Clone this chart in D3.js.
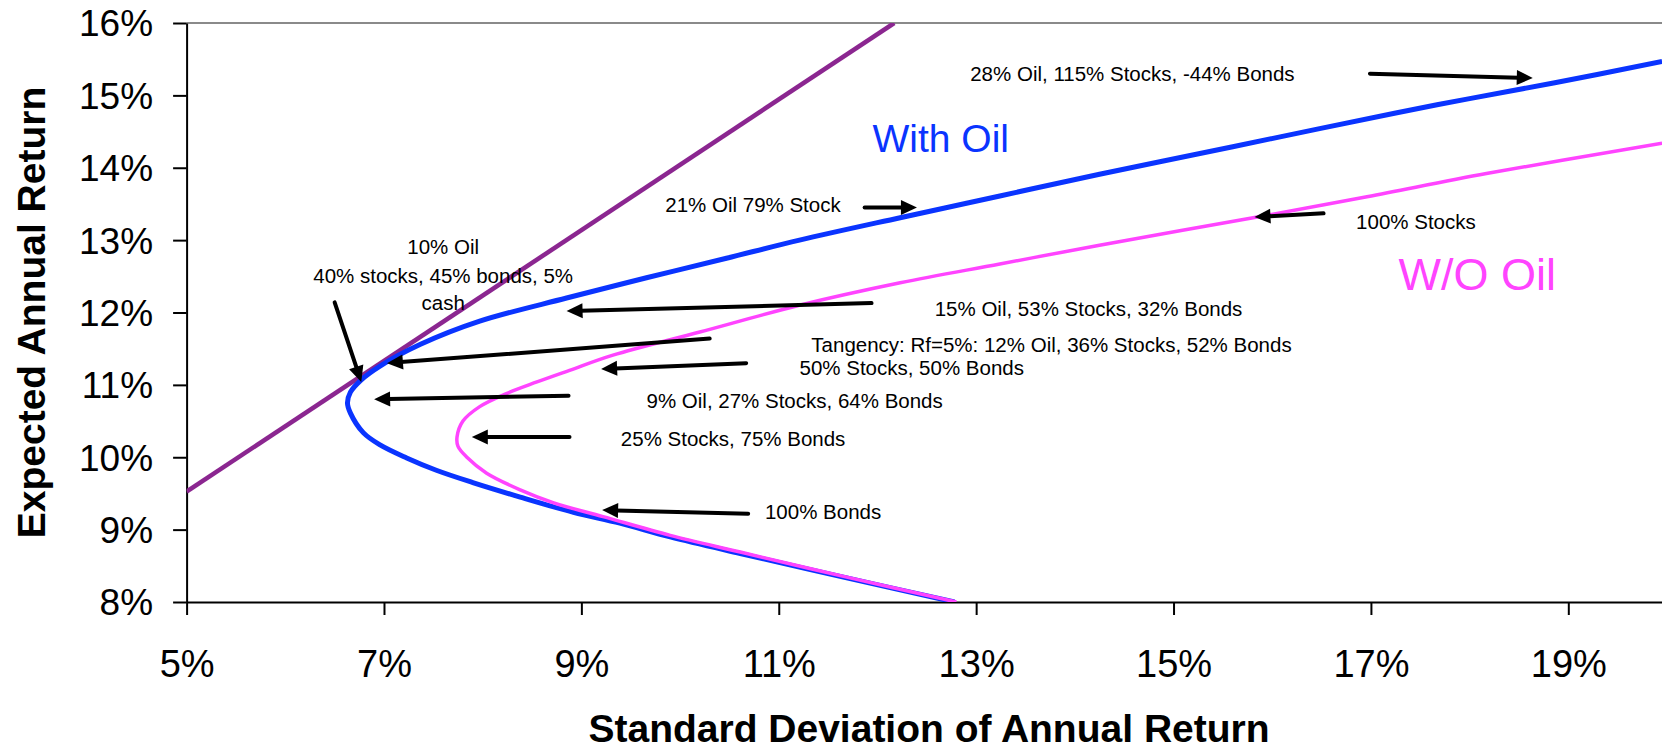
<!DOCTYPE html>
<html>
<head>
<meta charset="utf-8">
<script src="https://cdn.jsdelivr.net/npm/d3@7"></script>
<style>
  body { margin: 0; background: #fff; }
  svg { display: block; font-family: Arial, "Liberation Sans", Helvetica, sans-serif; }
</style>
</head>
<body>
<div id="chart"></div>
<script>
// ticks (in %)
const xTicks = [5, 7, 9, 11, 13, 15, 17, 19];
const yTicks = [8, 9, 10, 11, 12, 13, 14, 15, 16];

// efficient frontier with oil (sd %, return %)
const withOilSd = [12.78, 11.7, 10.61, 9.9, 9.39, 8.92, 8.38, 7.9, 7.53, 7.23, 6.96, 6.79, 6.66, 6.63, 6.66, 6.77, 6.96, 7.37, 7.97, 8.85, 9.66, 10.47, 11.21, 12.23, 13.24, 14.25, 15.6, 16.48, 17.67, 18.85, 19.95];
const withOilRet = [8.0, 8.33, 8.67, 8.9, 9.09, 9.24, 9.45, 9.65, 9.82, 9.99, 10.17, 10.34, 10.61, 10.75, 10.9, 11.07, 11.26, 11.56, 11.88, 12.2, 12.48, 12.75, 13.0, 13.31, 13.61, 13.91, 14.29, 14.54, 14.87, 15.17, 15.47];

// frontier without oil
const noOilSd = [12.8, 11.7, 10.61, 9.9, 9.22, 8.72, 8.38, 8.04, 7.84, 7.75, 7.74, 7.8, 7.97, 8.24, 8.55, 8.88, 9.32, 10.2, 11.21, 12.23, 13.24, 14.25, 15.85, 16.96, 18.17, 19.95];
const noOilRet = [8.0, 8.34, 8.69, 8.92, 9.18, 9.37, 9.55, 9.78, 10.0, 10.15, 10.28, 10.5, 10.7, 10.88, 11.04, 11.2, 11.41, 11.73, 12.1, 12.41, 12.67, 12.93, 13.32, 13.6, 13.92, 14.34];

// capital market line (Rf = 5%)
const cmlSd = [5, 12.17];
const cmlRet = [9.525, 16];

// annotation arrows: tail -> tip
const arrowFrom = [[16.99, 15.3], [11.87, 13.45], [16.52, 13.37], [6.5, 12.14], [11.94, 12.13], [10.3, 11.64], [10.67, 11.3], [8.87, 10.85], [8.88, 10.28], [10.69, 9.22]];
const arrowTo = [[18.64, 15.24], [12.4, 13.45], [15.82, 13.32], [6.77, 11.04], [8.85, 12.02], [7.03, 11.3], [9.2, 11.22], [6.9, 10.8], [7.89, 10.28], [9.21, 9.27]];

// annotation texts and their anchors (sd %, return %)
const noteText = ["28% Oil, 115% Stocks, -44% Bonds", "21% Oil 79% Stock", "100% Stocks", "15% Oil, 53% Stocks, 32% Bonds", "Tangency: Rf=5%: 12% Oil, 36% Stocks, 52% Bonds", "50% Stocks, 50% Bonds", "9% Oil, 27% Stocks, 64% Bonds", "25% Stocks, 75% Bonds", "100% Bonds"];
const noteAt = [[12.94, 15.2], [9.85, 13.39], [16.85, 13.15], [12.58, 11.95], [11.33, 11.46], [11.21, 11.13], [9.66, 10.68], [9.4, 10.16], [10.86, 9.15]];
const tangencyText = ["10% Oil", "40% stocks, 45% bonds, 5%", "cash"];
const tangencyAt = [[7.6, 12.81], [7.6, 12.41], [7.6, 12.03]];

const makePlot = () => {
  const size = { width: 1662, height: 749 };
  const margin = { top: 23, bottom: 147, left: 186.6, right: -5 };

  const svg = d3
    .select("#chart")
    .append("svg")
    .attr("width", size.width)
    .attr("height", size.height);

  svg.append("rect").attr("width", size.width).attr("height", size.height).attr("fill", "#fff");

  const x = d3
    .scaleLinear()
    .domain([5, 20])
    .range([margin.left, size.width - margin.right]);

  const y = d3
    .scaleLinear()
    .domain([8, 16])
    .range([size.height - margin.bottom, margin.top]);

  svg
    .append("clipPath")
    .attr("id", "plotClip")
    .append("rect")
    .attr("x", margin.left)
    .attr("y", margin.top)
    .attr("width", size.width - margin.left)
    .attr("height", y(8) - margin.top);

  // top border
  svg
    .append("line")
    .attr("x1", margin.left)
    .attr("x2", size.width)
    .attr("y1", y(16))
    .attr("y2", y(16))
    .attr("stroke", "#8a8a8a")
    .attr("stroke-width", 2);

  // axes
  const xAxis = svg
    .append("g")
    .attr("transform", `translate(0, ${y(8)})`)
    .call(d3.axisBottom(x).tickValues(xTicks).tickSize(13).tickSizeOuter(0).tickFormat((d) => d + "%"));
  xAxis.select(".domain").attr("stroke-width", 2);
  xAxis.selectAll(".tick line").attr("stroke-width", 2);
  xAxis
    .selectAll(".tick text")
    .attr("y", 75)
    .attr("dy", null)
    .style("font-size", "38px")
    .attr("fill", "#000");

  const yAxis = svg
    .append("g")
    .attr("transform", `translate(${margin.left}, 0)`)
    .call(d3.axisLeft(y).tickValues(yTicks).tickSize(13.5).tickPadding(20).tickSizeOuter(0).tickFormat((d) => d + "%"));
  yAxis.select(".domain").attr("stroke-width", 2);
  yAxis.selectAll(".tick line").attr("stroke-width", 2);
  yAxis
    .selectAll(".tick text")
    .attr("dy", "0.35em")
    .style("font-size", "37px")
    .attr("fill", "#000");

  // axis titles
  svg
    .append("text")
    .text("Standard Deviation of Annual Return")
    .attr("x", 929)
    .attr("y", 742)
    .attr("text-anchor", "middle")
    .attr("font-weight", "bold")
    .style("font-size", "39px");

  svg
    .append("text")
    .text("Expected Annual Return")
    .attr("transform", `translate(45, ${(y(8) + y(16)) / 2}) rotate(-90)`)
    .attr("text-anchor", "middle")
    .attr("font-weight", "bold")
    .style("font-size", "39px");

  // lines
  const plot = svg.append("g").attr("clip-path", "url(#plotClip)");

  const line = d3
    .line()
    .x((d) => x(d[0]))
    .y((d) => y(d[1]))
    .curve(d3.curveCatmullRom.alpha(0.5));

  plot
    .append("path")
    .datum(cmlSd.map((s, i) => [s, cmlRet[i]]))
    .attr("d", d3.line().x((d) => x(d[0])).y((d) => y(d[1])))
    .attr("stroke", "#8b2690")
    .attr("stroke-width", 4.5)
    .attr("fill", "none");

  plot
    .append("path")
    .datum(withOilSd.map((s, i) => [s, withOilRet[i]]))
    .attr("d", line)
    .attr("stroke", "#0a34ff")
    .attr("stroke-width", 5)
    .attr("stroke-linejoin", "round")
    .attr("fill", "none");

  plot
    .append("path")
    .datum(noOilSd.map((s, i) => [s, noOilRet[i]]))
    .attr("d", line)
    .attr("stroke", "#ff44ff")
    .attr("stroke-width", 3.5)
    .attr("stroke-linejoin", "round")
    .attr("fill", "none");

  // series labels
  svg
    .append("text")
    .text("With Oil")
    .attr("x", x(11.95))
    .attr("y", y(14.22))
    .attr("fill", "#0a34ff")
    .style("font-size", "39px");

  svg
    .append("text")
    .text("W/O Oil")
    .attr("x", x(17.28))
    .attr("y", y(12.31))
    .attr("fill", "#ff44ff")
    .style("font-size", "45px");

  // notes
  const notes = svg.append("g").style("font-size", "20.5px").attr("fill", "#000");
  noteText.forEach((t, i) => {
    notes.append("text").text(t).attr("x", x(noteAt[i][0])).attr("y", y(noteAt[i][1]));
  });
  tangencyText.forEach((t, i) => {
    notes
      .append("text")
      .text(t)
      .attr("x", x(tangencyAt[i][0]))
      .attr("y", y(tangencyAt[i][1]))
      .attr("text-anchor", "middle");
  });

  // arrows
  const headLen = 16;
  const headHalf = 7.5;
  const arrows = svg.append("g");
  arrowFrom.forEach((from, i) => {
    const x0 = x(from[0]);
    const y0 = y(from[1]);
    const x1 = x(arrowTo[i][0]);
    const y1 = y(arrowTo[i][1]);
    const len = Math.hypot(x1 - x0, y1 - y0);
    const ux = (x1 - x0) / len;
    const uy = (y1 - y0) / len;
    const bx = x1 - ux * headLen;
    const by = y1 - uy * headLen;
    arrows
      .append("line")
      .attr("x1", x0)
      .attr("y1", y0)
      .attr("x2", bx + ux * 2)
      .attr("y2", by + uy * 2)
      .attr("stroke", "#000")
      .attr("stroke-width", 4)
      .attr("stroke-linecap", "round");
    arrows
      .append("path")
      .attr(
        "d",
        `M${x1},${y1}L${bx - uy * headHalf},${by + ux * headHalf}L${bx + uy * headHalf},${by - ux * headHalf}Z`
      )
      .attr("fill", "#000");
  });
};

makePlot();
</script>
</body>
</html>
